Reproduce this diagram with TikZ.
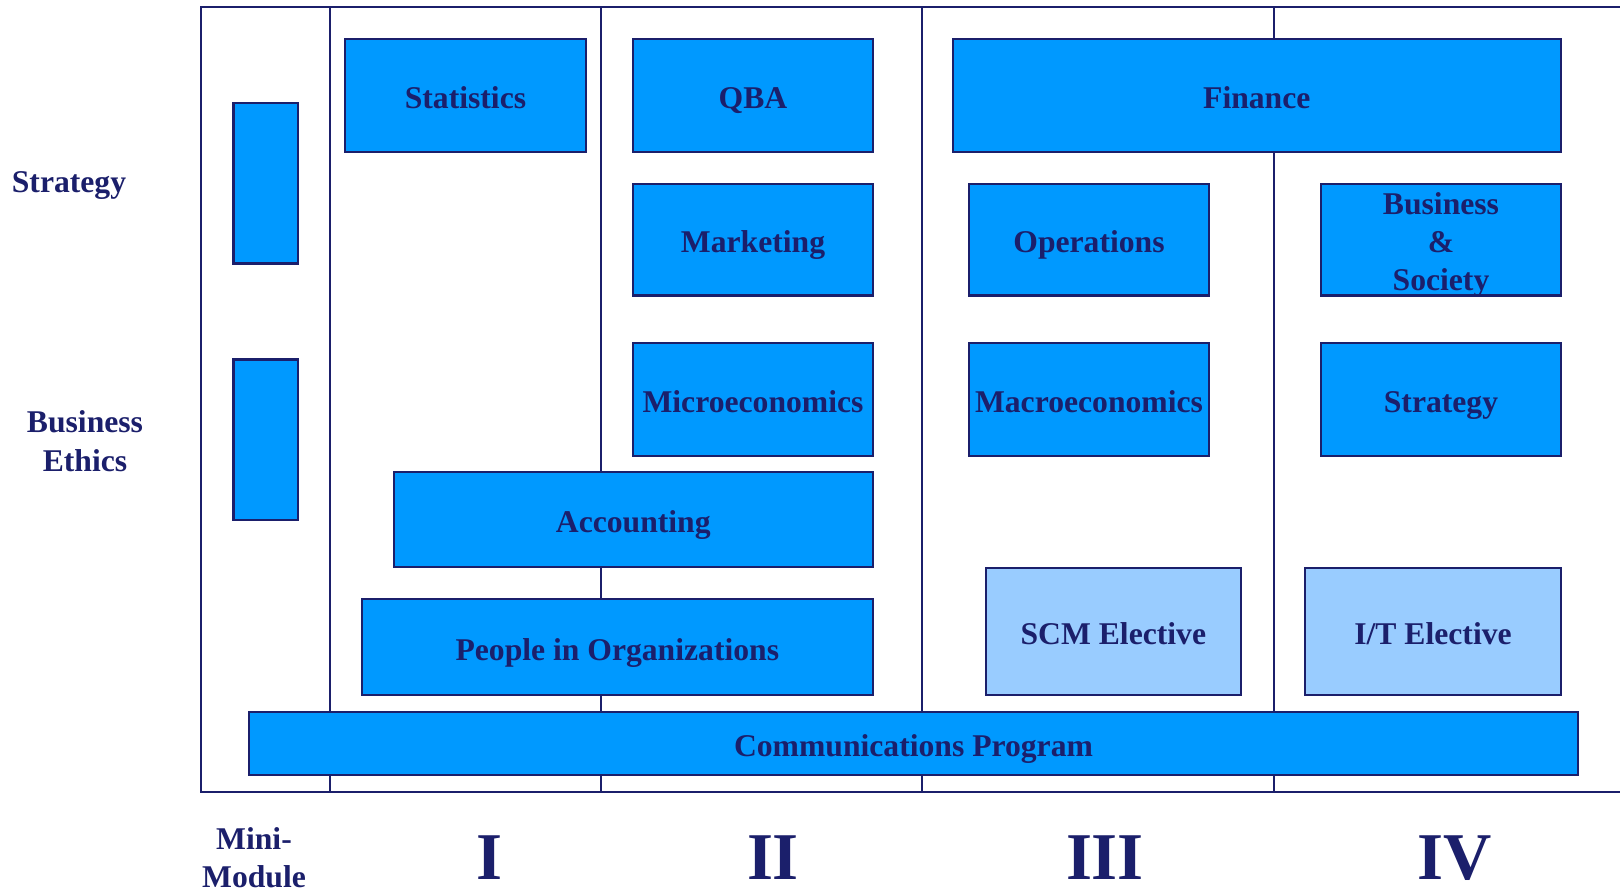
\documentclass[tikz,border=0pt]{standalone}
\usepackage{fontspec}
\setmainfont{Liberation Serif}
\usetikzlibrary{positioning}
\definecolor{navy}{HTML}{1B1F6B}
\definecolor{coursefill}{HTML}{0099FF}
\definecolor{electfill}{HTML}{99CCFF}

\begin{document}
\begin{tikzpicture}[x=0.01cm,y=-0.01cm,
  frame/.style={navy,line width=0.6pt},
  course/.style={draw=navy,fill=coursefill,line width=0.6pt},
  elective/.style={draw=navy,fill=electfill,line width=0.6pt},
  lbl/.style={text=navy,font=\bfseries\fontsize{9}{10.9}\selectfont,align=center,inner sep=0pt},
  onel/.style={lbl,text height=0.66em,text depth=0pt,yshift=-0.4pt},
  mod/.style={text=navy,font=\bfseries\fontsize{19}{20}\selectfont,inner sep=0pt}]
 \useasboundingbox (0,0) rectangle (1620,887);
 \draw[frame] (1620,7) -- (201,7) -- (201,792) -- (1620,792);
 \draw[frame] (329.6,7) -- (329.6,792);
 \draw[frame] (601,7) -- (601,792);
 \draw[frame] (921.6,7) -- (921.6,792);
 \draw[frame] (1274,7) -- (1274,792);
 \draw[course] (233.5,103) rectangle (297.6,263.5) node[midway] (mini1) {};
 \draw[course] (233.5,359.5) rectangle (297.6,519.7) node[midway] (mini2) {};
 \draw[course] (345,39) rectangle (586,152) node[midway,onel] (stat) {Statistics};
 \draw[course] (633,39) rectangle (873,152) node[midway,onel] (qba) {QBA};
 \draw[course] (952.6,39) rectangle (1561,152) node[midway,onel] (fin) {Finance};
 \draw[course] (633,184) rectangle (873,295.5) node[midway,onel] (mkt) {Marketing};
 \draw[course] (969,184) rectangle (1209,295.5) node[midway,onel] (ops) {Operations};
 \draw[course] (1321,184) rectangle (1561,295.5) node[midway,lbl,yshift=-1.5pt] (bas) {Business\\\&\\Society};
 \draw[course] (633,343) rectangle (873,455.6) node[midway,onel] (micro) {Microeconomics};
 \draw[course] (969,343) rectangle (1209,455.6) node[midway,onel] (macro) {Macroeconomics};
 \draw[course] (1321,343) rectangle (1561,455.6) node[midway,onel] (strat) {Strategy};
 \draw[course] (393.6,472) rectangle (873,567) node[midway,onel] (acc) {Accounting};
 \draw[course] (361.6,599) rectangle (873,695) node[midway,onel] (pio) {People in Organizations};
 \draw[elective] (985.7,568) rectangle (1241,695) node[midway,onel] (scm) {SCM Elective};
 \draw[elective] (1305,568) rectangle (1561,695) node[midway,onel] (it) {I/T Elective};
 \draw[course] (249,712) rectangle (1578,775) node[midway,onel] (comm) {Communications Program};
 \node[lbl] (lstrat) at (69,186) {Strategy};
 \node[lbl] (lethics) at (85,441) {Business\\Ethics};
 \node[lbl] (lmini) at (254,858) {Mini-\\Module};
 \node[mod] (m1) at (489,858) {I};
 \node[mod] (m2) at (773,858) {II};
 \node[mod] (m3) at (1105,858) {III};
 \node[mod] (m4) at (1455,858) {IV};
\end{tikzpicture}
\end{document}
